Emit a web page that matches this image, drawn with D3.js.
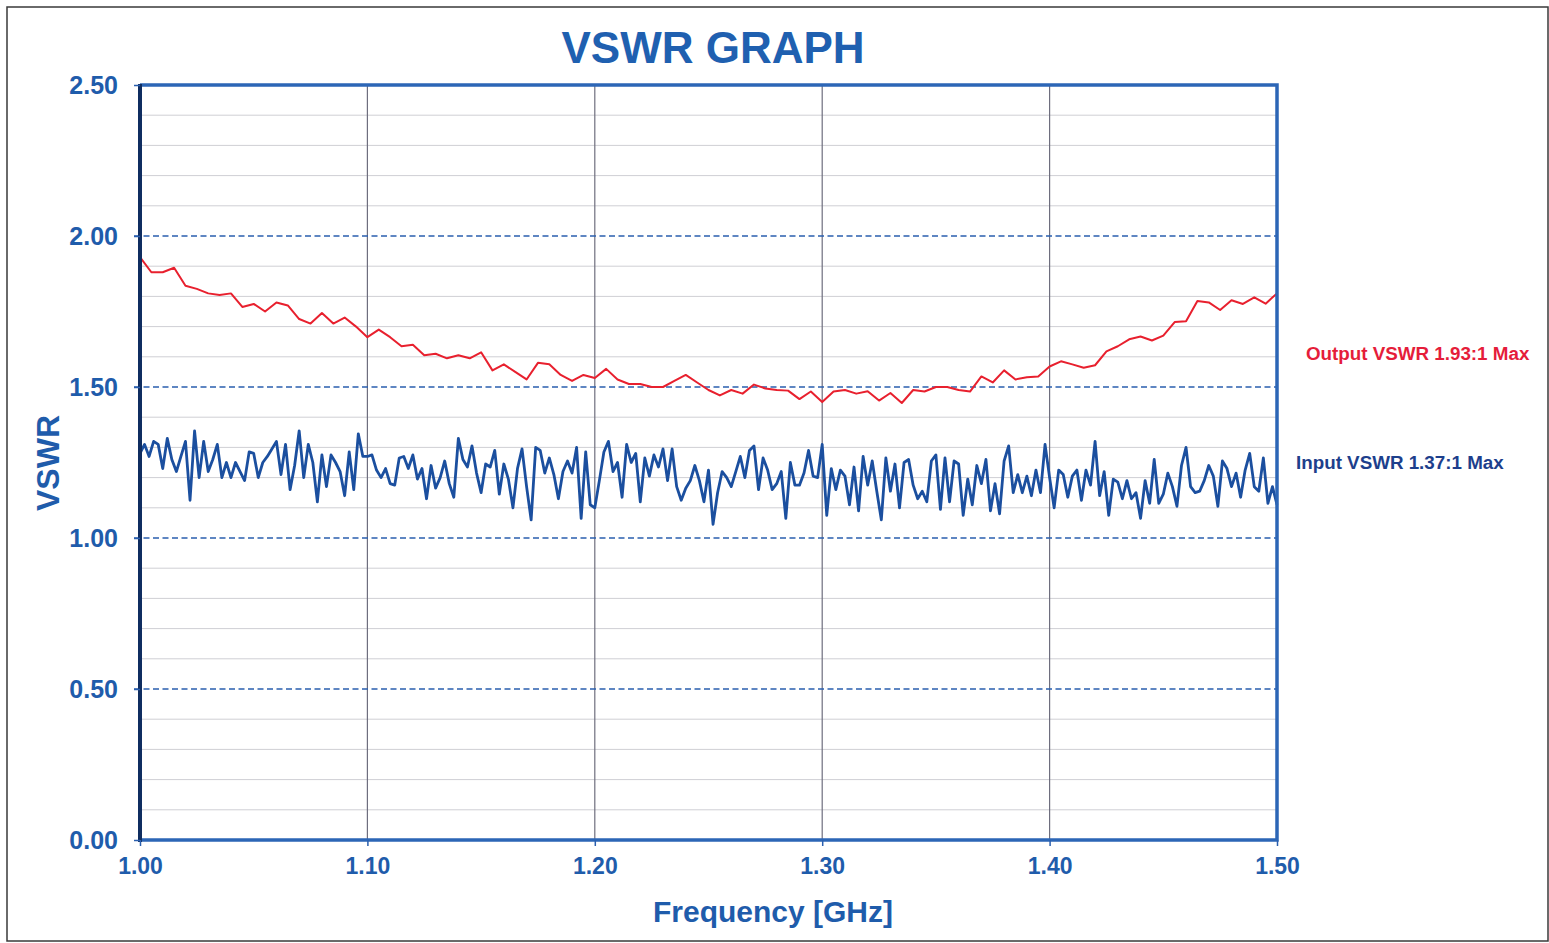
<html>
<head>
<script src="https://cdn.jsdelivr.net/npm/d3@7"></script>
<style>
    body { margin: 0; background-color: #FFFFFF; font-family: "Liberation Sans", Arial, sans-serif; }
    svg { display: block; }
    text { font-weight: bold; }
</style>
</head>
<body>
<div id="chart"></div>
<script type="text/javascript">
    // values, red = output, blue = input
    var yTicks = [0, 0.5, 1.0, 1.5, 2.0, 2.5];
    var xTicks = [1.0, 1.1, 1.2, 1.3, 1.4, 1.5];

    // output sweep, 5 MHz steps from 1.00 GHz
    var outputVswr = [
        1.93, 1.88, 1.88, 1.895, 1.835, 1.825, 1.81, 1.805, 1.81, 1.765,
        1.775, 1.75, 1.78, 1.77, 1.725, 1.71, 1.745, 1.71, 1.73, 1.70,
        1.665, 1.69, 1.665, 1.635, 1.64, 1.605, 1.61, 1.595, 1.605, 1.595,
        1.615, 1.555, 1.575, 1.55, 1.525, 1.58, 1.575, 1.54, 1.52, 1.54,
        1.53, 1.56, 1.525, 1.51, 1.51, 1.50, 1.50, 1.52, 1.54, 1.515,
        1.49, 1.472, 1.49, 1.478, 1.508, 1.495, 1.49, 1.488, 1.46, 1.485,
        1.45, 1.485, 1.49, 1.478, 1.486, 1.455, 1.48, 1.447, 1.49, 1.485,
        1.50, 1.50, 1.49, 1.485, 1.535, 1.515, 1.555, 1.525, 1.532, 1.535,
        1.568, 1.585, 1.575, 1.564, 1.572, 1.618, 1.635, 1.658, 1.667, 1.654,
        1.67, 1.715, 1.718, 1.785, 1.78, 1.755, 1.787, 1.775, 1.797, 1.776,
        1.81
    ];

    // input sweep, 2 MHz steps from 1.00 GHz
    var inputVswr = [
        1.28, 1.31, 1.27, 1.32, 1.31, 1.23, 1.33, 1.26, 1.22, 1.27,
        1.32, 1.125, 1.355, 1.20, 1.32, 1.22, 1.26, 1.31, 1.20, 1.25,
        1.20, 1.25, 1.22, 1.19, 1.285, 1.28, 1.20, 1.25, 1.27, 1.295,
        1.32, 1.21, 1.31, 1.16, 1.24, 1.355, 1.20, 1.31, 1.25, 1.12,
        1.275, 1.17, 1.275, 1.25, 1.22, 1.14, 1.285, 1.16, 1.345, 1.27,

        1.27, 1.275, 1.225, 1.20, 1.23, 1.18, 1.175, 1.265, 1.27, 1.23,
        1.275, 1.195, 1.23, 1.13, 1.24, 1.165, 1.20, 1.255, 1.18, 1.135,
        1.33, 1.26, 1.235, 1.305, 1.215, 1.15, 1.245, 1.235, 1.29, 1.145,
        1.245, 1.195, 1.10, 1.23, 1.295, 1.17, 1.06, 1.30, 1.29, 1.215,
        1.265, 1.21, 1.13, 1.22, 1.255, 1.215, 1.30, 1.065, 1.285, 1.11,

        1.10, 1.19, 1.285, 1.32, 1.22, 1.25, 1.135, 1.31, 1.25, 1.28,
        1.12, 1.265, 1.205, 1.275, 1.235, 1.295, 1.19, 1.295, 1.17, 1.125,
        1.165, 1.19, 1.24, 1.19, 1.12, 1.225, 1.045, 1.15, 1.22, 1.20,
        1.17, 1.22, 1.27, 1.20, 1.29, 1.305, 1.16, 1.265, 1.225, 1.16,
        1.18, 1.22, 1.065, 1.25, 1.175, 1.175, 1.215, 1.29, 1.205, 1.20,

        1.31, 1.075, 1.23, 1.16, 1.225, 1.205, 1.11, 1.235, 1.09, 1.27,
        1.175, 1.255, 1.155, 1.06, 1.265, 1.155, 1.245, 1.10, 1.25, 1.26,
        1.175, 1.13, 1.155, 1.12, 1.255, 1.275, 1.095, 1.265, 1.12, 1.255,
        1.245, 1.075, 1.195, 1.11, 1.24, 1.18, 1.26, 1.09, 1.18, 1.08,
        1.255, 1.305, 1.15, 1.21, 1.15, 1.205, 1.14, 1.225, 1.15, 1.31,

        1.20, 1.10, 1.225, 1.21, 1.135, 1.205, 1.225, 1.125, 1.225, 1.175,
        1.32, 1.14, 1.22, 1.075, 1.195, 1.185, 1.13, 1.19, 1.13, 1.15,
        1.065, 1.19, 1.115, 1.26, 1.115, 1.145, 1.215, 1.17, 1.105, 1.24,
        1.30, 1.17, 1.15, 1.155, 1.19, 1.24, 1.205, 1.105, 1.255, 1.23,
        1.17, 1.215, 1.135, 1.225, 1.28, 1.17, 1.155, 1.265, 1.115, 1.17,
        1.11
    ];

    var outputFreq = outputVswr.map(function (d, i) { return 1 + i * 0.005; });
    var inputFreq = inputVswr.map(function (d, i) { return 1 + i * 0.002; });

    var width = 1549, height = 943;
    // (window.top is read-only, so no "top" here)
    var plotLeft = 140, plotRight = 1277, plotTop = 85, plotBottom = 840;

    var svg = d3.select("#chart").append("svg")
        .attr("width", width)
        .attr("height", height);

    // page frame of the scan
    svg.append("rect")
        .attr("x", 7).attr("y", 7)
        .attr("width", 1541).attr("height", 934)
        .attr("fill", "none")
        .attr("stroke", "#3a3a3a")
        .attr("stroke-width", 1.5);

    var x = d3.scaleLinear().domain([1.0, 1.5]).range([plotLeft, plotRight]);
    var y = d3.scaleLinear().domain([0, 2.5]).range([plotBottom, plotTop]);

    // minor horizontal grid every 0.1
    var minor = d3.range(1, 25).map(function (i) { return i / 10; })
        .filter(function (v) { return Math.round(v * 10) % 5 != 0; });
    svg.selectAll(".minor").data(minor).enter().append("line")
        .attr("x1", plotLeft).attr("x2", plotRight)
        .attr("y1", function (d) { return y(d); })
        .attr("y2", function (d) { return y(d); })
        .attr("stroke", "#cfcfd4")
        .attr("stroke-width", 1);

    // vertical grid
    svg.selectAll(".vgrid").data(xTicks.slice(1, 5)).enter().append("line")
        .attr("x1", function (d) { return x(d); })
        .attr("x2", function (d) { return x(d); })
        .attr("y1", plotTop).attr("y2", plotBottom)
        .attr("stroke", "#6e6e7e")
        .attr("stroke-width", 1.2);

    // dashed major lines
    svg.selectAll(".major").data(yTicks.slice(1, 5)).enter().append("line")
        .attr("x1", plotLeft - 6).attr("x2", plotRight)
        .attr("y1", function (d) { return y(d); })
        .attr("y2", function (d) { return y(d); })
        .attr("stroke", "#2a5fae")
        .attr("stroke-width", 1.6)
        .attr("stroke-dasharray", "6,3.5");

    var line = d3.line()
        .x(function (d) { return x(d[0]); })
        .y(function (d) { return y(d[1]); });

    svg.append("path")
        .datum(d3.zip(outputFreq, outputVswr))
        .attr("d", line)
        .attr("fill", "none")
        .attr("stroke", "#e8202e")
        .attr("stroke-width", 2)
        .attr("stroke-linejoin", "round");

    svg.append("path")
        .datum(d3.zip(inputFreq, inputVswr))
        .attr("d", line)
        .attr("fill", "none")
        .attr("stroke", "#1b4f9f")
        .attr("stroke-width", 2.8)
        .attr("stroke-linejoin", "round");

    // plot border
    svg.append("path")
        .attr("d", "M" + plotLeft + "," + plotTop + "H" + plotRight + "V" + plotBottom + "H" + plotLeft)
        .attr("fill", "none")
        .attr("stroke", "#2c66b6")
        .attr("stroke-width", 3.5);
    svg.append("line")
        .attr("x1", plotLeft).attr("x2", plotLeft)
        .attr("y1", plotTop - 1).attr("y2", plotBottom + 2)
        .attr("stroke", "#0f2d60")
        .attr("stroke-width", 4);

    // axes (ticks + labels)
    var yAxis = svg.append("g")
        .attr("transform", "translate(" + plotLeft + ",0)")
        .call(d3.axisLeft(y).tickValues(yTicks).tickFormat(d3.format(".2f")).tickSize(6).tickPadding(16));
    yAxis.select(".domain").remove();
    yAxis.selectAll("line").attr("stroke", "#2a5fae").attr("stroke-width", 1.5);
    yAxis.selectAll("text")
        .attr("fill", "#1f5cab")
        .style("font-size", "25px")
        .style("font-family", "Liberation Sans, Arial, sans-serif");

    var xAxis = svg.append("g")
        .attr("transform", "translate(0," + plotBottom + ")")
        .call(d3.axisBottom(x).tickValues(xTicks).tickFormat(d3.format(".2f")).tickSize(6).tickPadding(12));
    xAxis.select(".domain").remove();
    xAxis.selectAll("line").attr("stroke", "#2a5fae").attr("stroke-width", 1.5);
    xAxis.selectAll("text")
        .attr("fill", "#1f5cab")
        .style("font-size", "23px")
        .style("font-family", "Liberation Sans, Arial, sans-serif");

    // titles
    svg.append("text")
        .attr("x", 713).attr("y", 63)
        .attr("text-anchor", "middle")
        .attr("fill", "#1f60b0")
        .style("font-size", "44px")
        .text("VSWR GRAPH");

    svg.append("text")
        .attr("x", 773).attr("y", 922)
        .attr("text-anchor", "middle")
        .attr("fill", "#1f5cab")
        .style("font-size", "30px")
        .text("Frequency [GHz]");

    svg.append("text")
        .attr("transform", "translate(59,463) rotate(-90)")
        .attr("text-anchor", "middle")
        .attr("fill", "#1f5cab")
        .style("font-size", "32px")
        .text("VSWR");

    // series notes on the right
    svg.append("text")
        .attr("x", 1306).attr("y", 360)
        .attr("fill", "#e51d3a")
        .style("font-size", "18.8px")
        .text("Output VSWR 1.93:1 Max");

    svg.append("text")
        .attr("x", 1296).attr("y", 469)
        .attr("fill", "#1d3f8c")
        .style("font-size", "18.8px")
        .text("Input VSWR 1.37:1 Max");
</script>
</body>
</html>
